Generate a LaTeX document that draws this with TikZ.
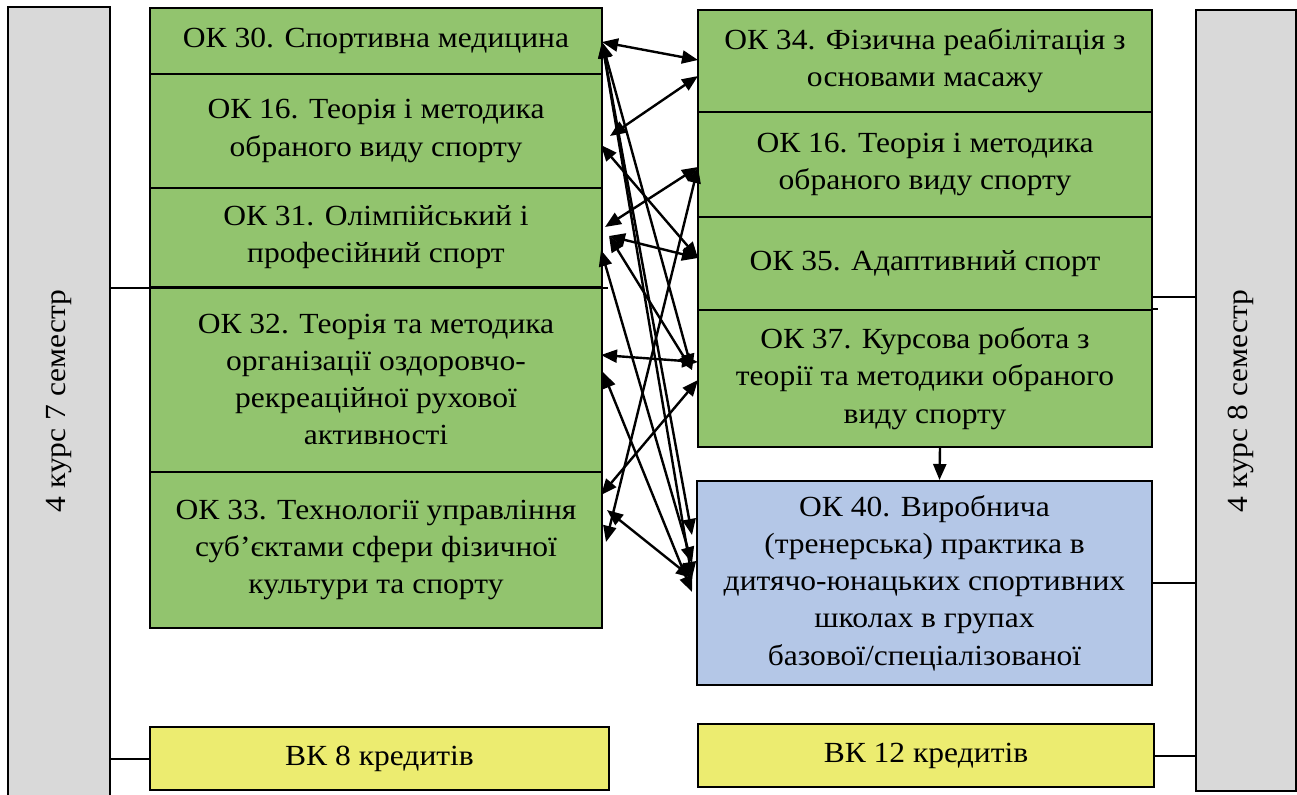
\documentclass[tikz,border=0pt]{standalone}
\usepackage{fontspec}
\setmainfont{Liberation Serif}[FakeStretch=1.08]
\usetikzlibrary{arrows.meta}
\definecolor{okgreen}{RGB}{146,196,110}
\definecolor{okblue}{RGB}{180,199,231}
\definecolor{vkyellow}{RGB}{236,236,112}
\definecolor{semgray}{RGB}{217,217,217}

\begin{document}
\begin{tikzpicture}[x=0.5pt,y=-0.5pt,>={Triangle[length=8pt,width=6.5pt]}]
\tikzstyle{box}=[draw,line width=1pt,inner sep=0pt,align=center,font=\fontsize{14.6pt}{18.6pt}\selectfont]
\tikzstyle{okbox}=[box,fill=okgreen]
\tikzstyle{arrow}=[<->,line width=1.2pt]
\useasboundingbox (0,0) rectangle (1297,794);

	\node[box,fill=semgray,minimum width=51pt,minimum height=396.5pt] (sem7) at (59,403.5) {};
	\node[box,fill=semgray,minimum width=50pt,minimum height=390.5pt] (sem8) at (1246,400.5) {};
	\node[box,draw=none,rotate=90] (sem7t) at (59,401) {4 курс 7 семестр};
	\node[box,draw=none,rotate=90] (sem8t) at (1241,401) {4 курс 8 семестр};

	\node[okbox,minimum width=226pt,minimum height=33pt] (ok30) at (376,41) {ОК 30. Спортивна медицина};
	\node[okbox,minimum width=226pt,minimum height=57pt] (ok16a) at (376,131) {ОК 16. Теорія і методика\\обраного виду спорту};
	\node[okbox,minimum width=226pt,minimum height=49.5pt] (ok31) at (376,237.5) {ОК 31. Олімпійський і\\професійний спорт};
	\node[okbox,minimum width=226pt,minimum height=92.5pt] (ok32) at (376,379.5) {ОК 32. Теорія та методика\\організації оздоровчо-\\рекреаційної рухової\\активності};
	\node[okbox,minimum width=226pt,minimum height=78pt] (ok33) at (376,550) {ОК 33. Технології управління\\суб’єктами сфери фізичної\\культури та спорту};

	\node[okbox,minimum width=227pt,minimum height=51pt] (ok34) at (925,61) {ОК 34. Фізична реабілітація з\\основами масажу};
	\node[okbox,minimum width=227pt,minimum height=52.5pt] (ok16b) at (925,164.5) {ОК 16. Теорія і методика\\обраного виду спорту};
	\node[okbox,minimum width=227pt,minimum height=46.5pt] (ok35) at (925,263.5) {ОК 35. Адаптивний спорт};
	\node[okbox,minimum width=227pt,minimum height=68.5pt] (ok37) at (925,378.5) {ОК 37. Курсова робота з\\теорії та методики обраного\\виду спорту};
	\node[box,fill=okblue,minimum width=227.5pt,minimum height=102pt] (ok40) at (924.5,583) {ОК 40. Виробнича\\(тренерська) практика в\\дитячо-юнацьких спортивних\\школах в групах\\базової/спеціалізованої};

	\node[box,fill=vkyellow,minimum width=229.5pt,minimum height=31.5pt] (vk8) at (379.5,758.5) {ВК 8 кредитів};
	\node[box,fill=vkyellow,minimum width=228pt,minimum height=31.5pt] (vk12) at (926,755.5) {ВК 12 кредитів};

	\coordinate (j8) at ([yshift=-16.75pt]ok35.east);
	\draw[line width=1pt] (sem7.east |- ok31.south) -- ([xshift=2.5pt]ok31.south east);
	\draw[line width=1pt] (sem7.east |- vk8.west) -- (vk8.west);
	\draw[line width=1pt] (j8) -- (sem8.west |- j8);
	\draw[line width=1pt] (ok37.north east) -- ++(5,0);
	\draw[line width=1pt] (ok40.east) -- (sem8.west |- ok40.east);
	\draw[line width=1pt] (vk12.east) -- (sem8.west |- vk12.east);
	\draw[->,line width=1.2pt] ([xshift=7.5pt]ok37.south) -- ([xshift=7.5pt]ok40.north);

	\coordinate (l30) at (602,42);
	\coordinate (l16a) at (610,136);
	\coordinate (l16b) at (601,145);
	\coordinate (l31a) at (605,227);
	\coordinate (l31b) at (609,236);
	\coordinate (l31c) at (601,250);
	\coordinate (l32a) at (601,355);
	\coordinate (l32b) at (603,372);
	\coordinate (l33a) at (601,495);
	\coordinate (l33b) at (607,510);
	\coordinate (l33c) at (606,542);
	\coordinate (r34a) at (698,60);
	\coordinate (r34b) at (698,76);
	\coordinate (r16) at (698,167);
	\coordinate (r35) at (698,258);
	\coordinate (r37a) at (698,362);
	\coordinate (r37b) at (692,370);
	\coordinate (r37c) at (698,380);
	\coordinate (r40a) at (692,535);
	\coordinate (r40b) at (692,563);
	\coordinate (r40c) at (692,578);
	\coordinate (r40d) at (692,592);

	\path (l30) edge[arrow] (r34a);
	\path (l16a) edge[arrow] (r34b);
	\path (l16b) edge[arrow] (r35);
	\path (r16) edge[arrow] (l31a);
	\path (l31b) edge[arrow] (r35);
	\path (l31b) edge[arrow] (r37b);
	\path (l31c) edge[arrow] (r40b);
	\path (l32a) edge[arrow] (r37a);
	\path (l32b) edge[arrow] (r40d);
	\path (r37c) edge[arrow] (l33a);
	\path (l33b) edge[arrow] (r40c);
	\path (r16) edge[arrow] (l33c);
	\path (l30) edge[arrow] (r37b);
	\path (l30) edge[arrow] (r40a);
	\path (l30) edge[arrow] (r40c);
\end{tikzpicture}
\end{document}
